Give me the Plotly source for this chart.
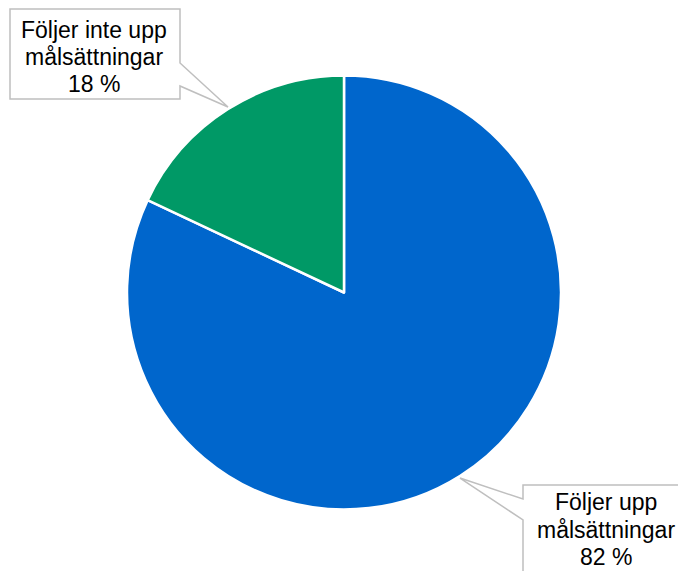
import plotly.graph_objects as go

labels = ["Följer upp målsättningar", "Följer inte upp målsättningar"]
values = [82, 18]
colors = ["#0066CC", "#009966"]
label_lines = [["Följer upp", "målsättningar", "82 %"],
               ["Följer inte upp", "målsättningar", "18 %"]]

W, H = 678, 571

def px(x):
    return x / W

def py(y):
    return 1 - y / H

def path(points):
    return "M " + " L ".join(f"{px(x):.5f},{py(y):.5f}" for x, y in points) + " Z"

fig = go.Figure(go.Pie(
    labels=labels,
    values=values,
    sort=False,
    direction="clockwise",
    rotation=0,
    marker=dict(colors=colors, line=dict(color="white", width=2.5)),
    textinfo="none",
    hoverinfo="label+percent",
    showlegend=False,
    domain=dict(x=[px(344 - 217), px(344 + 217)], y=[py(509.5), py(75.5)]),
))

callout1 = [(10, 9), (180, 9), (180, 63), (228, 107), (180, 86), (180, 99), (10, 99)]
callout2 = [(523, 485), (690, 485), (690, 590), (523, 590), (523, 520), (460, 478), (523, 499)]

for pts in (callout1, callout2):
    fig.add_shape(type="path", path=path(pts), xref="paper", yref="paper",
                  fillcolor="white", line=dict(color="#BFBFBF", width=1.5))

font = dict(family="Liberation Sans, Arial, sans-serif", size=23, color="#000000")
positions = [(606, [502, 530, 557]), (94, [30, 57, 84])]
for lines, (cx, ys) in zip(label_lines, positions):
    for line, cy in zip(lines, ys):
        fig.add_annotation(x=px(cx), y=py(cy), xref="paper", yref="paper", text=line,
                           showarrow=False, font=font, align="center",
                           xanchor="center", yanchor="middle")

fig.update_layout(
    width=W, height=H,
    margin=dict(l=0, r=0, t=0, b=0),
    paper_bgcolor="white", plot_bgcolor="white",
)

fig.write_html("out.html")
